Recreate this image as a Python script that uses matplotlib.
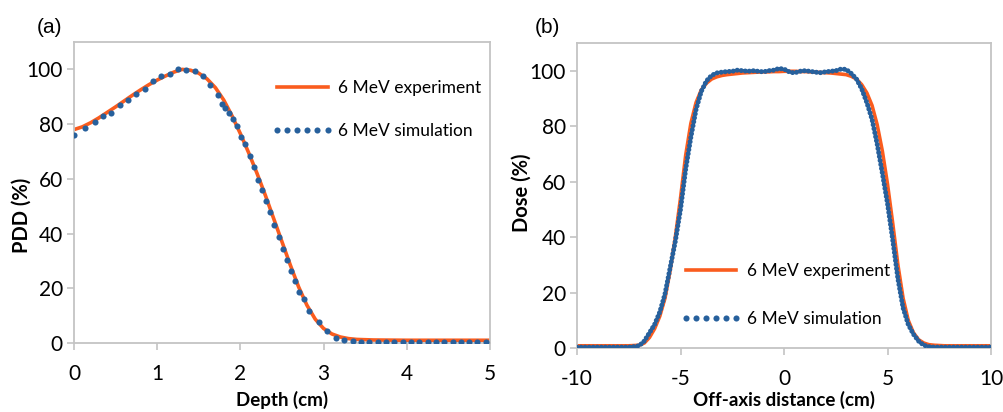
import numpy as np
import matplotlib.pyplot as plt
from matplotlib.lines import Line2D

plt.rcParams['font.family'] = ['Lato', 'DejaVu Sans']
plt.rcParams['axes.unicode_minus'] = False

# (a) depth dose, experiment (solid) and simulation (dots)
depth_exp = [0.0, 0.1, 0.2, 0.3, 0.4, 0.5, 0.6, 0.7, 0.8, 0.9, 1.0, 1.1, 1.2, 1.3, 1.4,
             1.5, 1.6, 1.7, 1.8, 1.9, 2.0, 2.1, 2.2, 2.3, 2.4, 2.5, 2.6, 2.7, 2.8, 2.9,
             3.0, 3.1, 3.2, 3.3, 3.4, 3.6, 4.0, 5.0]
pdd_exp = [78, 79, 80.5, 82.3, 84.3, 86.3, 88.4, 90.5, 92.5, 94.4, 96.1, 97.6, 99, 100, 99.7,
           98.6, 96.5, 93.3, 88.8, 83, 76.5, 69.5, 62, 54, 45.5, 37, 28.5, 20.5, 13.8, 8.7,
           5.3, 3.3, 2.2, 1.6, 1.3, 1.1, 1.0, 1.0]

depth_sim = [0.0, 0.13, 0.25, 0.35, 0.45, 0.55, 0.65, 0.75, 0.85, 0.95, 1.05, 1.15, 1.25,
             1.35, 1.45, 1.55, 1.64, 1.73, 1.78, 1.82, 1.86, 1.91, 1.96, 2.01, 2.06, 2.11,
             2.16, 2.21, 2.26, 2.31, 2.36, 2.41, 2.46, 2.51, 2.56, 2.61, 2.66, 2.71, 2.76,
             2.83, 2.94, 3.04, 3.15, 3.25, 3.35, 3.45, 3.55, 3.65, 3.75, 3.85, 3.95, 4.05,
             4.15, 4.25, 4.35, 4.45, 4.55, 4.65, 4.75, 4.85, 4.95]
pdd_sim = [76, 78.7, 80.6, 82.8, 84.2, 87, 88.7, 90.9, 93, 95.6, 97.4, 98.4, 100,
           99.6, 99.5, 97.4, 94.2, 90.5, 87.5, 86, 84, 81.8, 79.3, 75.3, 72.6, 68.4,
           64.3, 59.5, 55.8, 51.8, 47.7, 43, 38.6, 34.5, 30.5, 26.4, 22.6, 18.7, 15.9,
           11.8, 7.5, 4.4, 1.9, 1.0, 0.6, 0.5, 0.5, 0.5, 0.5, 0.5, 0.5, 0.5,
           0.5, 0.5, 0.5, 0.5, 0.5, 0.5, 0.5, 0.5, 0.5]

# (b) off-axis profile, every 0.25 cm from -10 to 10
offaxis = np.linspace(-10, 10, 81)
dose_exp = [0.8, 0.8, 0.8, 0.8, 0.8, 0.8, 0.8, 0.8, 0.8, 0.8, 0.8,   # -10 .. -7.5
            0.9, 1.0, 1.8, 3.8, 7, 11.5, 18, 28, 40, 54,            # -7.25 .. -5
            69.5, 81, 88.5, 93, 95.5, 97, 97.8, 98.3,               # -4.75 .. -3
            98.6, 98.8, 99.0, 99.2, 99.3, 99.4, 99.5, 99.6,         # -2.75 .. -1
            99.6, 99.7, 99.7, 99.8,                                 # -0.75 .. 0
            99.8, 99.8, 99.7, 99.7, 99.6, 99.5, 99.4, 99.3,         # 0.25 .. 2
            99.2, 99.0, 98.8, 98.6, 98.0, 97.0, 95, 92,             # 2.25 .. 4
            87.5, 80.5, 71, 59, 45, 30, 18, 10,                     # 4.25 .. 6
            5.5, 3, 1.8, 1.2, 1.0, 0.9,                             # 6.25 .. 7.5
            0.8, 0.8, 0.8, 0.8, 0.8, 0.8, 0.8, 0.8, 0.8, 0.8]       # 7.75 .. 10
dose_sim = [0.3, 0.3, 0.3, 0.3, 0.3, 0.3, 0.3, 0.3, 0.3, 0.3, 0.3,
            0.5, 0.8, 2.5, 5.5, 8.5, 13, 19.5, 29, 38.5, 50,
            64.5, 76, 86, 92.5, 96.3, 98.3, 99.2, 99.5,
            99.7, 99.8, 100.2, 100, 99.8, 100, 99.8, 99.6,
            100, 100.2, 100.8, 100.6,
            99.6, 99.2, 99.8, 100, 99.8, 99.5, 99.3, 99.6,
            99.8, 100, 100.6, 100.5, 99, 97, 93.5, 88.5,
            82.5, 73.5, 63, 52, 39, 25, 14.5, 8.5,
            5, 2.5, 1, 0.5, 0.3, 0.3,
            0.3, 0.3, 0.3, 0.3, 0.3, 0.3, 0.3, 0.3, 0.3, 0.3]

orange = '#FA5C1E'
blue = '#27609C'
frame = '#C4C4C4'

fig = plt.figure(figsize=(10.04, 4.12), dpi=100)
ax1 = fig.add_axes([0.0737, 0.1675, 0.4143, 0.7305])
ax2 = fig.add_axes([0.5747, 0.1553, 0.4124, 0.7403])

ax1.plot(depth_exp, pdd_exp, color=orange, lw=2.6, solid_capstyle='round', zorder=2)
ax1.plot(depth_sim, pdd_sim, ls='none', marker='o', ms=4.4, color=blue, mec='none', zorder=3)
ax1.set_xlim(0, 5)
ax1.set_ylim(0, 110)
ax1.set_xticks([0, 1, 2, 3, 4, 5])
ax1.set_yticks([0, 20, 40, 60, 80, 100])

ax2.plot(offaxis, dose_exp, color=orange, lw=2.6, zorder=2)
ax2.plot(offaxis, dose_sim, color=blue, lw=3.6, ls=(0, (0.01, 0.8)),
         dash_capstyle='round', zorder=3)
ax2.set_xlim(-10, 10)
ax2.set_ylim(0, 110)
ax2.set_xticks([-10, -5, 0, 5, 10])
ax2.set_yticks([0, 20, 40, 60, 80, 100])

for ax in (ax1, ax2):
    for s in ax.spines.values():
        s.set_color(frame)
        s.set_linewidth(1.3)
    ax.tick_params(direction='out', length=5, width=1.2, color=frame,
                   labelsize=15, labelcolor='black')
    ax.tick_params(axis='x', pad=10)
    ax.tick_params(axis='y', pad=3)

ax1.set_xlabel('Depth (cm)', fontsize=13.5, fontweight='bold')
ax1.set_ylabel('PDD (%)', fontsize=14.5, fontweight='bold')
ax1.xaxis.set_label_coords(0.5, -0.159)
ax1.yaxis.set_label_coords(-0.101, 0.425)
ax2.set_xlabel('Off-axis distance (cm)', fontsize=13.5, fontweight='bold')
ax2.set_ylabel('Dose (%)', fontsize=14.5, fontweight='bold')
ax2.xaxis.set_label_coords(0.5, -0.141)
ax2.yaxis.set_label_coords(-0.109, 0.51)

h_exp = Line2D([], [], color=orange, lw=2.6)
h_sim = Line2D([], [], color=blue, ls='none', marker='o', ms=4.4, mec='none')
labels = ['6 MeV experiment', '6 MeV simulation']
ax1.legend([h_exp, h_sim], labels, loc='upper left', bbox_to_anchor=(0.476, 0.874),
           frameon=False, fontsize=12.5, handlelength=3.5, handletextpad=0.3,
           labelspacing=1.55, numpoints=6, borderpad=0, borderaxespad=0)
ax2.legend([h_exp, h_sim], labels, loc='upper left', bbox_to_anchor=(0.251, 0.279),
           frameon=False, fontsize=12.5, handlelength=3.5, handletextpad=0.3,
           labelspacing=1.85, numpoints=6, borderpad=0, borderaxespad=0)

fig.text(0.037, 0.934, '(a)', fontsize=15, family='Liberation Sans', va='center')
fig.text(0.533, 0.934, '(b)', fontsize=15, family='Liberation Sans', va='center')

fig.savefig('out.png', dpi=100)
